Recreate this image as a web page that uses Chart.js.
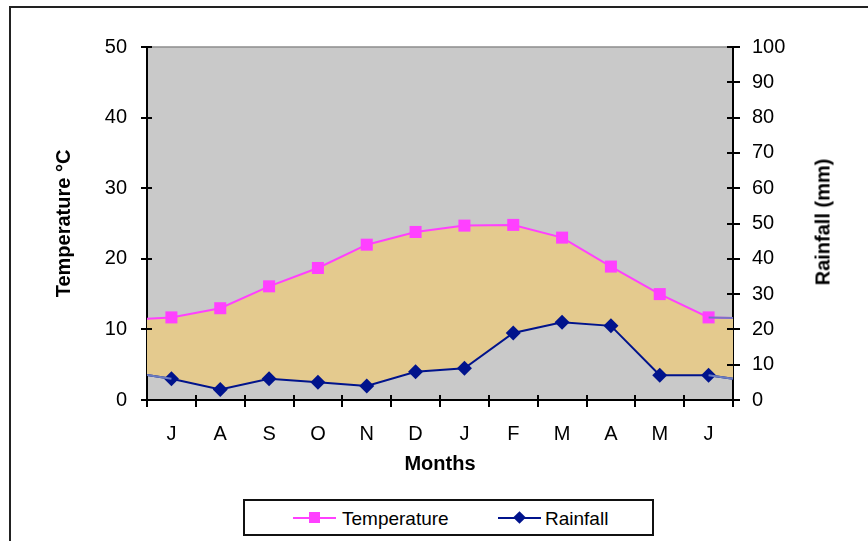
<!DOCTYPE html>
<html>
<head>
<meta charset="utf-8">
<script src="https://cdn.jsdelivr.net/npm/chart.js@4.4.0/dist/chart.umd.min.js"></script>
<style>
    body { margin: 0; width: 868px; height: 541px; overflow: hidden; background: #fff; font-family: "Liberation Sans", Arial, sans-serif; }
    #frame { position: absolute; left: 9px; top: 6px; width: 1000px; height: 700px; border: 2px solid #222; }
    #wrap { position: absolute; left: 0; top: 0; width: 868px; height: 541px; }
    #rainTitle { position: absolute; left: 823px; top: 222px; transform: translate(-50%, -50%) rotate(-90deg); font-weight: bold; font-size: 20px; white-space: nowrap; }
    #legend { position: absolute; left: 243px; top: 499px; width: 407px; height: 33px; border: 2px solid #111; background: #fff; font-size: 19px; }
    .item { position: absolute; top: 0; height: 33px; line-height: 35px; }
    .line { position: absolute; top: 16px; width: 43px; height: 2px; }
    .mark { position: absolute; }
</style>
</head>
<body>
<div id="frame"></div>
<div id="wrap"><canvas id="chart" width="868" height="541"></canvas></div>
<div id="rainTitle">Rainfall (mm)</div>
<div id="legend">
    <div class="item" style="left:48px;width:170px">
        <div class="line" style="left:0;background:#ff40ff"></div>
        <div class="mark" style="left:16px;top:11px;width:11px;height:11px;background:#ff40ff"></div>
        <span style="position:absolute;left:49px">Temperature</span>
    </div>
    <div class="item" style="left:253px;width:140px">
        <div class="line" style="left:0;background:#00138c"></div>
        <div class="mark" style="left:17px;top:12px;width:9px;height:9px;background:#00138c;transform:rotate(45deg)"></div>
        <span style="position:absolute;left:47px">Rainfall</span>
    </div>
</div>
<script>
// values
const months = ['J', 'A', 'S', 'O', 'N', 'D', 'J', 'F', 'M', 'A', 'M', 'J'];
const temperature = [11.7, 13.0, 16.1, 18.7, 22.0, 23.8, 24.7, 24.8, 23.0, 18.9, 15.0, 11.7];
const rainfall = [6, 3, 6, 5, 4, 8, 9, 19, 22, 21, 7, 7];
// where the lines meet the plot edges (left, right)
const tempEdges = [11.5, 11.6];
const rainEdges = [7.1, 6.0];
const tempTicks = [0, 10, 20, 30, 40, 50];
const rainTicks = [0, 10, 20, 30, 40, 50, 60, 70, 80, 90, 100];

const n = months.length;

function withEdges(values, edges) {
    const pts = [{ x: 0, y: edges[0] }];
    values.forEach((v, i) => pts.push({ x: i + 0.5, y: v }));
    pts.push({ x: n, y: edges[1] });
    return pts;
}

function markerSizes(r) {
    return Array.from({ length: n + 2 }, (_, i) => (i === 0 || i === n + 1) ? 0 : r);
}

// short edge pieces drawn in the paler blue
function edgeLine(fromX, fromY, toX, toY, axis, color) {
    return {
        data: [{ x: fromX, y: fromY }, { x: toX, y: toY }],
        yAxisID: axis,
        borderColor: color,
        borderWidth: 2,
        pointRadius: 0,
        fill: false,
        order: 0
    };
}

// gray plot area + inward half of the tick marks
const plotDecor = {
    id: 'plotDecor',
    beforeDraw(chart) {
        const { ctx, chartArea: a } = chart;
        ctx.save();
        ctx.fillStyle = '#c9c9c9';
        ctx.fillRect(a.left, a.top, a.right - a.left, a.bottom - a.top);
        ctx.strokeStyle = '#8c8c8c';
        ctx.lineWidth = 1.5;
        ctx.beginPath();
        ctx.moveTo(a.left, a.top);
        ctx.lineTo(a.right, a.top);
        ctx.stroke();
        ctx.restore();
    },
    afterDraw(chart) {
        const { ctx, chartArea: a, scales } = chart;
        ctx.save();
        ctx.strokeStyle = '#000';
        ctx.lineWidth = 2;
        ctx.beginPath();
        tempTicks.forEach(v => {
            const y = Math.round(scales.y.getPixelForValue(v));
            ctx.moveTo(a.left, y);
            ctx.lineTo(a.left + 5, y);
        });
        rainTicks.forEach(v => {
            const y = Math.round(scales.y1.getPixelForValue(v));
            ctx.moveTo(a.right - 6, y);
            ctx.lineTo(a.right, y);
        });
        for (let i = 0; i <= n; i++) {
            const x = Math.round(scales.x.getPixelForValue(i));
            ctx.moveTo(x, a.bottom - 5);
            ctx.lineTo(x, a.bottom);
        }
        ctx.stroke();
        ctx.restore();
    }
};

Chart.defaults.font.family = '"Liberation Sans", Arial, sans-serif';
Chart.defaults.font.size = 20;
Chart.defaults.color = '#000';

new Chart(document.getElementById('chart').getContext('2d'), {
    type: 'line',
    data: {
        datasets: [{
            label: 'Temperature',
            data: withEdges(temperature, tempEdges),
            yAxisID: 'y',
            borderColor: '#ff40ff',
            borderWidth: 2,
            pointStyle: 'rect',
            pointRadius: markerSizes(8.5),
            pointBackgroundColor: '#ff40ff',
            pointBorderColor: '#ff40ff',
            pointBorderWidth: 0,
            fill: { target: 1 },
            backgroundColor: '#e4ca8e',
            tension: 0,
            order: 2
        }, {
            label: 'Rainfall',
            data: withEdges(rainfall, rainEdges),
            yAxisID: 'y1',
            borderColor: '#00138c',
            borderWidth: 2,
            pointStyle: 'rectRot',
            pointRadius: markerSizes(7.5),
            pointBackgroundColor: '#00138c',
            pointBorderColor: '#00138c',
            pointBorderWidth: 0,
            fill: false,
            tension: 0,
            order: 1
        },
        edgeLine(n - 0.5, temperature[n - 1], n, tempEdges[1], 'y', '#7a74c4'),
        edgeLine(0, rainEdges[0], 0.5, rainfall[0], 'y1', '#6b7cc0'),
        edgeLine(n - 0.5, rainfall[n - 1], n, rainEdges[1], 'y1', '#6b7cc0')]
    },
    options: {
        responsive: false,
        animation: false,
        layout: { padding: { left: 40, right: 0, top: 47, bottom: 61 } },
        plugins: {
            legend: { display: false },
            tooltip: { enabled: false },
            filler: { drawTime: 'beforeDatasetsDraw' }
        },
        scales: {
            x: {
                type: 'linear',
                min: 0,
                max: n,
                afterFit: s => { s.height = 80; },
                border: { color: '#000', width: 2 },
                grid: {
                    drawOnChartArea: false,
                    tickLength: 7,
                    lineWidth: 2,
                    color: ctx => (ctx.tick && ctx.tick.value % 1 === 0) ? '#000' : 'rgba(0,0,0,0)'
                },
                ticks: {
                    stepSize: 0.5,
                    autoSkip: false,
                    maxRotation: 0,
                    padding: 15,
                    callback: v => (v % 1 === 0.5) ? months[Math.floor(v)] : ''
                },
                title: {
                    display: true,
                    text: 'Months',
                    font: { weight: 'bold', size: 20 },
                    padding: { top: 0, bottom: 4 }
                }
            },
            y: {
                position: 'left',
                min: 0,
                max: 50,
                afterFit: s => { s.width = 107; },
                border: { color: '#000', width: 2 },
                grid: { drawOnChartArea: false, tickLength: 6, lineWidth: 2, color: '#000' },
                ticks: { stepSize: 10, padding: 14 },
                title: {
                    display: true,
                    text: 'Temperature °C',
                    font: { weight: 'bold', size: 20 },
                    padding: { top: 12, bottom: 0 }
                }
            },
            y1: {
                position: 'right',
                min: 0,
                max: 100,
                afterFit: s => { s.width = 135; },
                border: { color: '#000', width: 2 },
                grid: { drawOnChartArea: false, tickLength: 7, lineWidth: 2, color: '#000' },
                ticks: { stepSize: 10, padding: 12 }
            }
        }
    },
    plugins: [plotDecor]
});
</script>
</body>
</html>
